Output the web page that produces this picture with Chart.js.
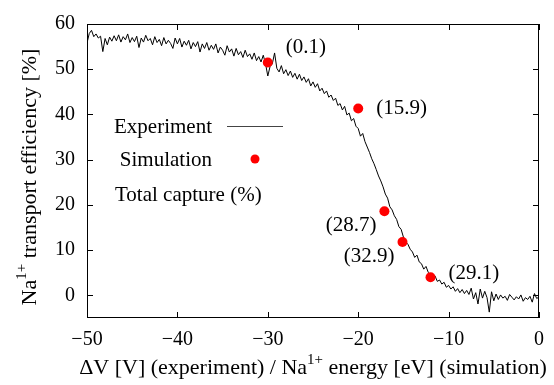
<!DOCTYPE html>
<html>
<head>
<meta charset="utf-8">
<script src="https://cdn.jsdelivr.net/npm/chart.js@4.4.1/dist/chart.umd.min.js"></script>
<style>
html,body{margin:0;padding:0;background:#fff;}
</style>
</head>
<body>
<canvas id="chart" width="554" height="385"></canvas>
<script>
// experiment trace (0.25 V steps)
const expX=[
-50,-49.75,-49.5,-49.25,-49,-48.75,-48.5,-48.25,-48,-47.75,-47.5,-47.25,-47,-46.75,-46.5,-46.25,-46,-45.75,-45.5,-45.25,
-45,-44.75,-44.5,-44.25,-44,-43.75,-43.5,-43.25,-43,-42.75,-42.5,-42.25,-42,-41.75,-41.5,-41.25,-41,-40.75,-40.5,-40.25,
-40,-39.75,-39.5,-39.25,-39,-38.75,-38.5,-38.25,-38,-37.75,-37.5,-37.25,-37,-36.75,-36.5,-36.25,-36,-35.75,-35.5,-35.25,
-35,-34.75,-34.5,-34.25,-34,-33.75,-33.5,-33.25,-33,-32.75,-32.5,-32.25,-32,-31.75,-31.5,-31.25,-31,-30.75,-30.5,-30.25,
-30,-29.75,-29.5,-29.25,-29,-28.75,-28.5,-28.25,-28,-27.75,-27.5,-27.25,-27,-26.75,-26.5,-26.25,-26,-25.75,-25.5,-25.25,
-25,-24.75,-24.5,-24.25,-24,-23.75,-23.5,-23.25,-23,-22.75,-22.5,-22.25,-22,-21.75,-21.5,-21.25,-21,-20.75,-20.5,-20.25,
-20,-19.75,-19.5,-19.25,-19,-18.75,-18.5,-18.25,-18,-17.75,-17.5,-17.25,-17,-16.75,-16.5,-16.25,-16,-15.75,-15.5,-15.25,
-15,-14.75,-14.5,-14.25,-14,-13.75,-13.5,-13.25,-13,-12.75,-12.5,-12.25,-12,-11.75,-11.5,-11.25,-11,-10.75,-10.5,-10.25,
-10,-9.75,-9.5,-9.25,-9,-8.75,-8.5,-8.25,-8,-7.75,-7.5,-7.25,-7,-6.75,-6.5,-6.25,-6,-5.75,-5.5,-5.25,
-5,-4.75,-4.5,-4.25,-4,-3.75,-3.5,-3.25,-3,-2.75,-2.5,-2.25,-2,-1.75,-1.5,-1.25,-1,-0.75,-0.5,-0.25,
0];
const expY=[
55.8,57.9,58.6,57.2, 57.8,56.9,57.3,53.9, 56.8,55.4,57.1,56.2, 57.4,56.3,57.6,56.0, 57.2,56.5,57.8,55.9,
57.0,56.1,57.3,54.8, 56.9,56.0,57.5,56.3, 56.8,55.4,57.2,55.9, 56.6,55.2,57.0,55.6, 56.4,55.7,54.6,56.9,
55.6,56.8,54.9,56.2, 55.3,56.4,54.5,55.9, 55.0,56.1,53.8,55.6, 54.6,55.9,54.2,55.3, 54.4,55.6,53.6,54.9,
54.2,53.1,55.2,53.8, 54.5,52.9,54.6,53.2, 53.9,52.6,54.2,52.8, 53.4,52.2,53.6,51.9, 52.8,51.6,53.1,51.2,
48.5,50.6,51.2,53.6, 50.2,49.4,50.8,49.0, 49.9,48.6,49.6,48.2, 49.1,47.8,48.9,47.5, 48.3,47.1,47.9,46.3,
47.2,46.0,46.8,45.2, 45.8,44.6,45.2,43.8, 44.3,43.1,43.6,42.0, 42.4,41.0,41.8,39.9, 40.3,38.6,39.1,37.4,
36.9,35.2,35.8,34.0, 32.8,31.6,30.2,29.1, 27.8,26.4,25.3,24.0, 22.4,21.5,19.6,18.9, 17.6,16.8,15.2,14.6,
12.9,11.8,11.3,10.2, 9.6,8.4,8.9,7.4, 7.0,5.8,6.4,5.1, 4.6,4.0,4.3,3.1, 3.4,2.5,2.9,1.8,
2.2,1.4,1.9,0.9, 1.5,0.6,1.3,0.4, 1.1,0.2,1.6,-0.8, 0.6,-1.9,1.4,-0.6, 0.9,-0.5,-3.7,0.8,
-1.2,0.3,-0.9,0.1, -0.6,-0.2,-1.1,0.2, -0.4,-1.0,-0.3,-0.8, 0.1,-1.3,-0.5,-0.9, -0.2,-1.5,0.4,-0.7,
-0.3];

const simX=[-30,-20,-17.1,-15.1,-12];
const simY=[51.5,41.3,18.6,11.8,4.0];
const simLabels=["(0.1)","(15.9)","(28.7)","(32.9)","(29.1)"];

const xTicks=[-50,-40,-30,-20,-10,0];
const yTicks=[0,10,20,30,40,50,60];

const FONT="'Liberation Serif', 'DejaVu Serif', serif";

// label offsets in px from each simulation point
const labelPos=[
{dx:18,dy:-15,align:"left"},
{dx:18,dy:0,align:"left"},
{dx:-8,dy:14,align:"right"},
{dx:-8,dy:14,align:"right"},
{dx:18,dy:-4,align:"left"}
];

function drawSup(ctx,parts,x,y,align){
// parts: [text, isSup]
let w=0;
parts.forEach(p=>{
ctx.font=(p[1]?"15px ":"22px ")+FONT;
w+=ctx.measureText(p[0]).width;
});
let cx=align==="center"?x-w/2:x;
parts.forEach(p=>{
ctx.font=(p[1]?"15px ":"22px ")+FONT;
ctx.fillText(p[0],cx,p[1]?y-8:y);
cx+=ctx.measureText(p[0]).width;
});
}

const framePlugin={
id:"frame",
afterDraw(chart){
const ctx=chart.ctx;
const a=chart.chartArea;
const xs=chart.scales.x, ys=chart.scales.y;
ctx.save();
ctx.strokeStyle="#000";
ctx.lineWidth=1;
ctx.strokeRect(a.left+0.5,a.top+0.5,a.right-a.left-1,a.bottom-a.top-1);
ctx.beginPath();
xTicks.forEach(v=>{
let px=Math.round(xs.getPixelForValue(v))+0.5;
ctx.moveTo(px,a.bottom);ctx.lineTo(px,a.bottom-6);
ctx.moveTo(px,a.top);ctx.lineTo(px,a.top+6);
});
yTicks.forEach(v=>{
let py=Math.round(ys.getPixelForValue(v))+0.5;
ctx.moveTo(a.left,py);ctx.lineTo(a.left+6,py);
ctx.moveTo(a.right,py);ctx.lineTo(a.right-6,py);
});
ctx.stroke();

ctx.fillStyle="#000";
ctx.textBaseline="middle";

// annotations
simX.forEach((v,i)=>{
const p=labelPos[i];
ctx.font="21px "+FONT;
ctx.textAlign=p.align;
ctx.fillText(simLabels[i],xs.getPixelForValue(v)+p.dx,ys.getPixelForValue(simY[i])+p.dy);
});

// legend
ctx.font="21px "+FONT;
ctx.textAlign="right";
ctx.fillText("Experiment",212,127);
ctx.fillText("Simulation",212,160);
ctx.textAlign="left";
ctx.fillText("Total capture (%)",115,195);
ctx.strokeStyle="#444";
ctx.beginPath();
ctx.moveTo(227,126.5);ctx.lineTo(283,126.5);
ctx.stroke();
ctx.fillStyle="#ff0000";
ctx.beginPath();
ctx.arc(255,159,4.5,0,Math.PI*2);
ctx.fill();

// axis titles
ctx.fillStyle="#000";
ctx.textAlign="left";
drawSup(ctx,[["ΔV [V] (experiment) / Na",false],["1+",true],[" energy [eV] (simulation)",false]],313,368,"center");
ctx.translate(30,177);
ctx.rotate(-Math.PI/2);
drawSup(ctx,[["Na",false],["1+",true],[" transport efficiency [%]",false]],0,0,"center");
ctx.restore();
}
};

new Chart(document.getElementById("chart"),{
type:"scatter",
data:{
datasets:[
{
label:"Simulation",
data:simX.map((v,i)=>({x:v,y:simY[i]})),
backgroundColor:"#ff0000",
borderWidth:0,
pointRadius:5,
order:0
},
{
label:"Experiment",
data:expX.map((v,i)=>({x:v,y:expY[i]})),
showLine:true,
borderColor:"#000",
borderWidth:1,
pointRadius:0,
tension:0,
order:1
}
]
},
options:{
responsive:false,
animation:false,
devicePixelRatio:1,
layout:{padding:{left:0,top:19,right:12,bottom:0}},
plugins:{legend:{display:false},tooltip:{enabled:false}},
scales:{
x:{
type:"linear",min:-50,max:0,
afterBuildTicks:s=>{s.ticks=xTicks.map(v=>({value:v}));},
afterFit:s=>{s.height=67;},
grid:{display:false,drawTicks:false},
border:{display:false},
ticks:{color:"#000",font:{family:FONT,size:20},padding:10,maxRotation:0,
callback:v=>v<0?"\u2212"+Math.abs(v):String(v)}
},
y:{
type:"linear",min:-5,max:60,
afterBuildTicks:s=>{s.ticks=yTicks.map(v=>({value:v}));},
afterFit:s=>{s.width=87;},
grid:{display:false,drawTicks:false},
border:{display:false},
ticks:{color:"#000",font:{family:FONT,size:20},padding:12,
callback:v=>String(v)}
}
}
},
plugins:[framePlugin]
});
</script>
</body>
</html>
